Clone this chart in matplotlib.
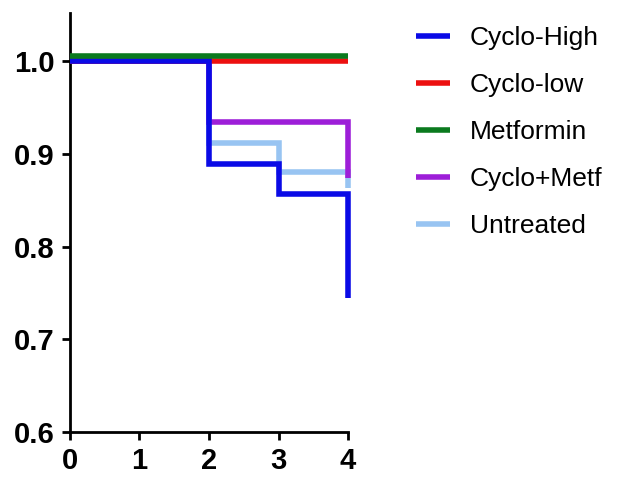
import matplotlib
matplotlib.use("Agg")
import matplotlib.pyplot as plt
import matplotlib.transforms as mtransforms

plt.rcParams['font.family'] = ['Liberation Sans', 'DejaVu Sans']

# survival curves: value at each time holds until the next time
groups = ["Cyclo-High", "Cyclo-low", "Metformin", "Cyclo+Metf", "Untreated"]
times = [0, 1, 2, 3, 4]
cyclo_high = [1.0, 1.0, 0.889, 0.857, 0.745]
cyclo_low = [1.0, 1.0, 1.0, 1.0, 1.0]
metformin = [1.0, 1.0, 1.0, 1.0, 1.0]
cyclo_metf = [1.0, 1.0, 0.934, 0.934, 0.874]
untreated = [1.0, 1.0, 0.912, 0.880, 0.863]

colors = {
    "Cyclo-High": "#0a0ae6",
    "Cyclo-low": "#ec1010",
    "Metformin": "#0a7a1e",
    "Cyclo+Metf": "#9d1ed8",
    "Untreated": "#98c4f2",
}
series = {
    "Cyclo-High": cyclo_high,
    "Cyclo-low": cyclo_low,
    "Metformin": metformin,
    "Cyclo+Metf": cyclo_metf,
    "Untreated": untreated,
}

fig = plt.figure(figsize=(6.22, 4.8), dpi=100)
ax = fig.add_axes([0.1125, 0.1, 0.447, 0.873])

# draw order: lighter curves first so the blue sits on top
order = ["Untreated", "Cyclo+Metf", "Cyclo-low", "Cyclo-High", "Metformin"]
handles = {}
for i, name in enumerate(order):
    tr = ax.transData
    if name == "Metformin":
        # lifted a few pixels so it shows above the overlapping 1.0 lines
        tr = mtransforms.offset_copy(ax.transData, fig=fig, x=0, y=5, units='dots')
    ln, = ax.step(times, series[name], where='post', color=colors[name],
                  lw=4, transform=tr, zorder=i + 2, solid_joinstyle='miter',
                  solid_capstyle='butt', clip_on=False)
    handles[name] = ln

ax.set_xlim(0, 4)
ax.set_ylim(0.6, 1.052)
ax.set_xticks([0, 1, 2, 3, 4])
ax.set_yticks([0.6, 0.7, 0.8, 0.9, 1.0])
ax.set_yticklabels(["0.6", "0.7", "0.8", "0.9", "1.0"])

for s in ['top', 'right']:
    ax.spines[s].set_visible(False)
for s in ['left', 'bottom']:
    ax.spines[s].set_linewidth(2)
ax.tick_params(width=2, length=6, labelsize=21, direction='out', pad=5)
for lab in ax.get_xticklabels() + ax.get_yticklabels():
    lab.set_fontweight('bold')

leg = fig.legend([handles[g] for g in groups], groups,
                 loc='upper left', bbox_to_anchor=(0.630, 0.995),
                 frameon=False, fontsize=19, handlelength=1.29,
                 handletextpad=0.76, labelspacing=0.87)

fig.savefig("out.png", dpi=100)
